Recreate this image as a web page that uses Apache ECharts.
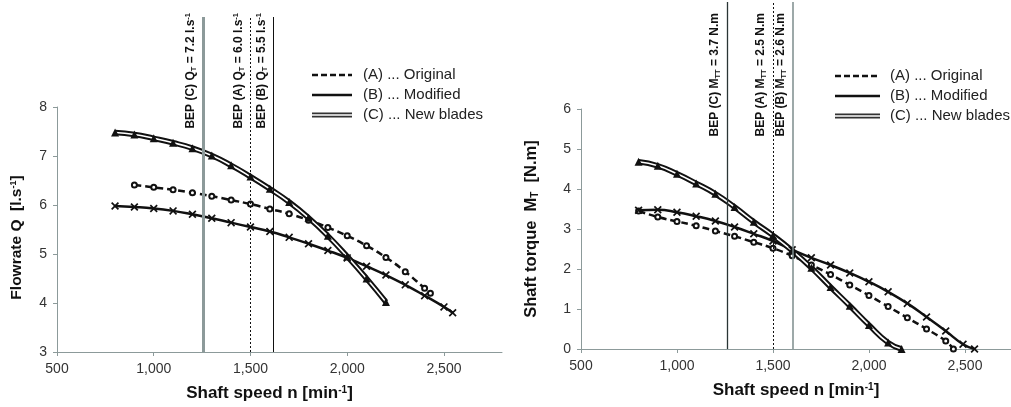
<!DOCTYPE html>
<html><head><meta charset="utf-8">
<script src="https://cdn.jsdelivr.net/npm/echarts@6/dist/echarts.min.js"></script>
<style>html,body{margin:0;padding:0;background:#fff}#c{width:1011px;height:407px}</style>
</head><body><div id="c"></div><script>
// ---- data ----
const xTickLabels = [500, 1000, 1500, 2000, 2500];
const flowTicks = [3, 4, 5, 6, 7, 8];
const torqueTicks = [0, 1, 2, 3, 4, 5, 6];

// Left chart: flowrate Q [l/s] vs shaft speed
const flowA = [[900,6.41],[1000,6.36],[1100,6.31],[1200,6.25],[1300,6.18],[1400,6.1],[1500,6.02],[1600,5.92],[1700,5.82],[1800,5.69],[1900,5.54],[2000,5.37],[2100,5.17],[2200,4.93],[2300,4.64],[2400,4.3],[2430,4.2]];
const flowB = [[800,5.98],[900,5.96],[1000,5.93],[1100,5.88],[1200,5.81],[1300,5.73],[1400,5.64],[1500,5.55],[1600,5.46],[1700,5.34],[1800,5.21],[1900,5.07],[2000,4.92],[2100,4.75],[2200,4.57],[2300,4.37],[2400,4.15],[2500,3.92],[2545,3.8]];
const flowC = [[800,7.48],[900,7.44],[1000,7.36],[1100,7.27],[1200,7.16],[1300,7.01],[1400,6.81],[1500,6.58],[1600,6.33],[1700,6.06],[1800,5.74],[1900,5.37],[2000,4.95],[2100,4.5],[2200,4.02]];

// Right chart: shaft torque M_T [N.m] vs shaft speed
const torqueA = [[800,3.45],[900,3.3],[1000,3.19],[1100,3.08],[1200,2.95],[1300,2.82],[1400,2.67],[1500,2.52],[1600,2.33],[1700,2.1],[1800,1.86],[1900,1.6],[2000,1.34],[2100,1.06],[2200,0.78],[2300,0.5],[2400,0.2],[2440,0]];
const torqueB = [[800,3.47],[900,3.48],[1000,3.42],[1100,3.32],[1200,3.2],[1300,3.05],[1400,2.88],[1500,2.7],[1600,2.48],[1700,2.28],[1800,2.1],[1900,1.9],[2000,1.68],[2100,1.43],[2200,1.14],[2300,0.8],[2400,0.45],[2490,0.12],[2550,0]];
const torqueC = [[800,4.68],[900,4.58],[1000,4.38],[1100,4.14],[1200,3.88],[1300,3.55],[1400,3.18],[1500,2.84],[1600,2.46],[1700,2.03],[1800,1.55],[1900,1.08],[2000,0.6],[2100,0.16],[2170,0]];

// BEP vertical lines (shaft speed) and labels
const bepFlowSpeeds = [1255, 1500, 1620];           // C, A, B
const bepFlowLabels = ['BEP (C) Q{s|T} = 7.2 l.s{p|-1}', 'BEP (A) Q{s|T} = 6.0 l.s{p|-1}', 'BEP (B) Q{s|T} = 5.5 l.s{p|-1}'];
const bepTorqueSpeeds = [1260, 1500, 1605];         // C, A, B
const bepTorqueLabels = ['BEP (C) M{s|TT} = 3.7 N.m', 'BEP (A) M{s|TT} = 2.5 N.m', 'BEP (B) M{s|TT} = 2.6 N.m'];

const legendNames = ['(A) ... Original', '(B) ... Modified', '(C) ... New blades'];

// ---- styling ----
const F = 'Liberation Sans, Arial, sans-serif';
const AX = '#8c9a9a';
const INK = '#111';
const xPath = 'path://M0,1.5L1.5,0L5,3.5L8.5,0L10,1.5L6.5,5L10,8.5L8.5,10L5,6.5L1.5,10L0,8.5L3.5,5Z';
const fmt = v => String(v).replace(/\B(?=(\d{3})+(?!\d))/g, ',');

const grids = [
  {left: 57, top: 107, right: 509, bottom: 55},
  {left: 57, top: 17, right: 509, bottom: 55},
  {left: 581, top: 109, right: 0, bottom: 58},
  {left: 581, top: 2, right: 0, bottom: 58}
];

function xAxisMain(gi, max, pad) {
  return {
    type: 'value', gridIndex: gi, min: 500, max: max,
    axisLine: {show: true, lineStyle: {color: AX, width: 1}},
    axisTick: {show: true, length: 4, lineStyle: {color: AX}, customValues: xTickLabels},
    axisLabel: {color: '#333', fontSize: 14, fontFamily: F, margin: 10, customValues: xTickLabels, formatter: v => fmt(v)},
    splitLine: {show: false},
    name: 'Shaft speed n [min{p|-1}]', nameLocation: 'middle', nameGap: 33,
    nameTextStyle: {fontSize: 17, fontWeight: 'bold', color: INK, fontFamily: F, padding: [0, pad, 0, 0],
      rich: {p: {fontSize: 10, fontWeight: 'bold', color: INK, fontFamily: F, verticalAlign: 'top', lineHeight: 11}}}
  };
}
function yAxisMain(gi, min, max, ticks, name, gap, pad, fs) {
  return {
    type: 'value', gridIndex: gi, min: min, max: max, interval: 1,
    axisLine: {show: true, lineStyle: {color: AX, width: 1}},
    axisTick: {show: true, length: 4, lineStyle: {color: AX}, customValues: ticks},
    axisLabel: {color: '#333', fontSize: 14, fontFamily: F, margin: 10, customValues: ticks},
    splitLine: {show: false},
    name: name, nameLocation: 'middle', nameGap: gap,
    nameTextStyle: {fontSize: fs, fontWeight: 'bold', color: INK, fontFamily: F, padding: [0, pad, 0, 0],
      rich: {
        p: {fontSize: 9, fontWeight: 'bold', color: INK, fontFamily: F, verticalAlign: 'top', lineHeight: 10},
        s: {fontSize: 10, fontWeight: 'bold', color: INK, fontFamily: F, verticalAlign: 'bottom', lineHeight: 10}
      }}
  };
}
const hiddenX = (gi, max) => ({type: 'value', gridIndex: gi, min: 500, max: max, show: false});
const hiddenY = gi => ({type: 'value', gridIndex: gi, min: 0, max: 1, show: false});

function curveSeries(xi, data, kind) {
  const base = {type: 'line', xAxisIndex: xi, yAxisIndex: xi, data: data, smooth: 0.5, silent: true, animation: false};
  if (kind === 'A') return [Object.assign({}, base, {
    symbol: 'emptyCircle', symbolSize: 5, itemStyle: {color: INK, borderWidth: 1.2},
    lineStyle: {color: INK, width: 2.5, type: [7, 4]}})];
  if (kind === 'B') return [Object.assign({}, base, {
    symbol: xPath, symbolSize: 8, itemStyle: {color: INK},
    lineStyle: {color: INK, width: 2.5}})];
  return [
    Object.assign({}, base, {showSymbol: false, symbol: 'none', lineStyle: {color: INK, width: 5.5}}),
    Object.assign({}, base, {symbol: 'triangle', symbolSize: 8, itemStyle: {color: INK},
      lineStyle: {color: '#fff', width: 1.6}})
  ];
}

const labelRich = {
  s: {fontSize: 7.5, fontWeight: 'bold', color: INK, fontFamily: F, verticalAlign: 'bottom', lineHeight: 9},
  p: {fontSize: 7.5, fontWeight: 'bold', color: INK, fontFamily: F, verticalAlign: 'top', lineHeight: 9}
};
function bepSeries(xi, speeds, labels, styles, dist) {
  return {
    type: 'line', xAxisIndex: xi, yAxisIndex: xi, data: [], silent: true, animation: false,
    markLine: {
      silent: true, symbol: ['none', 'none'], animation: false,
      data: speeds.map((s, i) => [
        {coord: [s, 0], lineStyle: styles[i],
          label: {show: true, position: 'insideEndTop', distance: dist, formatter: labels[i],
            color: INK, fontSize: 12, fontWeight: 'bold', fontFamily: F, lineHeight: 14, rich: labelRich}},
        {coord: [s, 1]}
      ])
    }
  };
}

const flowBepStyles = [
  {color: '#8c9a9a', width: 3, type: 'solid'},
  {color: INK, width: 1, type: [2, 2]},
  {color: INK, width: 1, type: 'solid'}
];
const torqueBepStyles = [
  {color: '#2a3535', width: 1.3, type: 'solid'},
  {color: INK, width: 1, type: [2, 2]},
  {color: '#7d8c8c', width: 1.5, type: 'solid'}
];

function legendGraphics(x0, x1, tx, ys) {
  const els = [];
  els.push({type: 'line', shape: {x1: x0, y1: ys[0], x2: x1, y2: ys[0]}, style: {stroke: INK, lineWidth: 2.5, lineDash: [6, 3]}});
  els.push({type: 'line', shape: {x1: x0, y1: ys[1], x2: x1, y2: ys[1]}, style: {stroke: INK, lineWidth: 2.5}});
  els.push({type: 'line', shape: {x1: x0, y1: ys[2], x2: x1, y2: ys[2]}, style: {stroke: '#333', lineWidth: 5}});
  els.push({type: 'line', shape: {x1: x0, y1: ys[2], x2: x1, y2: ys[2]}, style: {stroke: '#fff', lineWidth: 1.4}});
  legendNames.forEach((n, i) => els.push({type: 'text', x: tx, y: ys[i],
    style: {text: n, font: '15px ' + F, fill: '#222', textVerticalAlign: 'middle', textAlign: 'left'}}));
  return els;
}

const LMAX = 2800, RMAX = 2740;
const option = {
  backgroundColor: '#fff',
  animation: false,
  grid: grids,
  xAxis: [xAxisMain(0, LMAX, 20), hiddenX(1, LMAX), xAxisMain(2, RMAX, 0), hiddenX(3, RMAX)],
  yAxis: [
    yAxisMain(0, 3, 8, flowTicks, 'Flowrate Q  [l.s{p|-1}]', 32, 16, 15.5), hiddenY(1),
    yAxisMain(2, 0, 6, torqueTicks, 'Shaft torque  M{s|T}  [N.m]', 41, 0, 16.5), hiddenY(3)
  ],
  series: [].concat(
    curveSeries(0, flowA, 'A'), curveSeries(0, flowB, 'B'), curveSeries(0, flowC, 'C'),
    [bepSeries(1, bepFlowSpeeds, bepFlowLabels, flowBepStyles, [-4, 5])],
    curveSeries(2, torqueA, 'A'), curveSeries(2, torqueB, 'B'), curveSeries(2, torqueC, 'C'),
    [bepSeries(3, bepTorqueSpeeds, bepTorqueLabels, torqueBepStyles, [11, 5])]
  ),
  graphic: legendGraphics(312, 352, 363, [75, 95, 115]).concat(legendGraphics(835, 880, 890, [76, 96, 116]))
};
const chart = echarts.init(document.getElementById('c'), null, {renderer: 'canvas'});
chart.setOption(option);
</script></body></html>
